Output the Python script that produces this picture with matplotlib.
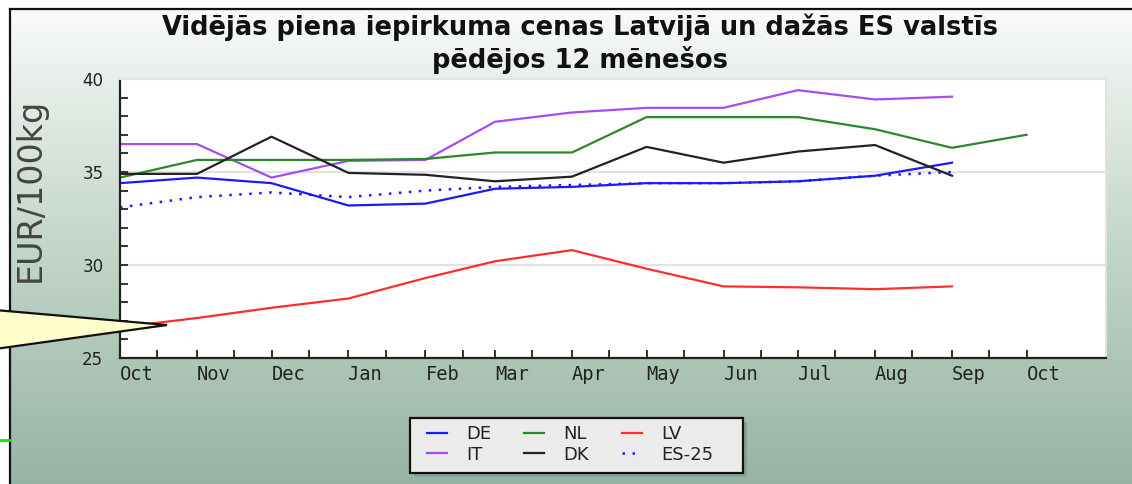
import numpy as np
import pandas as pd
import matplotlib
matplotlib.use("Agg")
import matplotlib.pyplot as plt
from matplotlib.patches import Polygon, Rectangle
from matplotlib.ticker import MultipleLocator

# data (EUR/100kg, first day of each month)
months = pd.date_range("2012-10-01", "2013-10-01", freq="MS")
month_labels = ["Oct", "Nov", "Dec", "Jan", "Feb", "Mar", "Apr",
                "May", "Jun", "Jul", "Aug", "Sep", "Oct"]

de = [34.4, 34.7, 34.4, 33.2, 33.3, 34.1, 34.2, 34.4, 34.4, 34.5, 34.8, 35.5]
it = [36.5, 36.5, 34.7, 35.6, 35.65, 37.7, 38.2, 38.45, 38.45, 39.4, 38.9, 39.05]
nl = [34.7, 35.65, 35.65, 35.65, 35.7, 36.05, 36.05, 37.95, 37.95, 37.95, 37.3, 36.3, 37.0]
dk = [34.9, 34.9, 36.9, 34.95, 34.85, 34.5, 34.75, 36.35, 35.5, 36.1, 36.45, 34.8]
lv = [26.65, 27.15, 27.7, 28.2, 29.3, 30.2, 30.8, 29.8, 28.85, 28.8, 28.7, 28.85]
es25 = [33.1, 33.65, 33.9, 33.65, 34.0, 34.2, 34.3, 34.4, 34.4, 34.5, 34.8, 35.0]

title_1 = "Vidējās piena iepirkuma cenas Latvijā un dažās ES valstīs"
title_2 = "pēdējos 12 mēnešos"

W, H = 1132, 484
fig = plt.figure(figsize=(W / 100, H / 100), dpi=100)
fig.patch.set_facecolor("white")

# background panel with vertical gradient
bg = fig.add_axes([0, 0, 1, 1], zorder=-5)
stops = [9, 100, 250, 484]
stop_cols = ["#fafbfa", "#e3ebe5", "#c2d5c9", "#96b4a3"]
rgb = np.array([matplotlib.colors.to_rgb(c) for c in stop_cols])
rows = np.arange(9, H)
grad = np.stack([np.interp(rows, stops, rgb[:, k]) for k in range(3)], axis=-1)[:, None, :]
bg.imshow(grad, extent=(10, W, H, 9), aspect="auto", interpolation="bilinear")
bg.plot([10, 10], [H, 9], color="#111111", lw=1.6)
bg.plot([10, W], [9, 9], color="#111111", lw=1.6)
bg.plot([0, 10], [440, 440], color="#00ee00", lw=2)
# legend box and its shadow
bg.add_patch(Rectangle((414, 422), 333, 55, facecolor="#86a092", edgecolor="none"))
bg.add_patch(Rectangle((410, 418), 333, 55, facecolor="#ebebeb", edgecolor="#111111", lw=1.6))
bg.set_xlim(0, W)
bg.set_ylim(H, 0)
bg.axis("off")

# main plot
ax = fig.add_axes([120 / W, 1 - 358 / H, (1106 - 120) / W, (358 - 79) / H])
ax.set_facecolor("white")

ax.plot(months[:len(de)], de, color="#1a1aff", lw=1.6, label="DE")
ax.plot(months[:len(it)], it, color="#a64df0", lw=1.6, label="IT")
ax.plot(months[:len(nl)], nl, color="#2a882a", lw=1.6, label="NL")
ax.plot(months[:len(dk)], dk, color="#222222", lw=1.6, label="DK")
ax.plot(months[:len(lv)], lv, color="#ff2e2e", lw=1.6, label="LV")
ax.plot(months[:len(es25)], es25, color="#1a1aff", lw=1.8, ls=(0, (1, 3)), label="ES-25")

ax.set_ylim(25, 40)
ax.set_yticks([25, 30, 35, 40])
ax.yaxis.set_minor_locator(MultipleLocator(1))
ax.set_xlim(pd.Timestamp("2012-10-01"), pd.Timestamp("2013-11-02"))
ax.set_xticks(months)
ax.set_xticklabels(month_labels, family="DejaVu Sans Mono", fontsize=13.5, color="#222222", ha="left")
ax.set_xticks(months[:-1] + pd.Timedelta(days=15), minor=True)

ax.tick_params(which="both", direction="in", length=6, width=1.3, color="#222222")
ax.tick_params(axis="y", labelsize=12, labelcolor="#222222", pad=12)
ax.tick_params(axis="x", pad=5)
ax.yaxis.grid(True, which="major", color="#e2e2e2", lw=1.5)
ax.set_axisbelow(True)
for s in ["left", "bottom"]:
    ax.spines[s].set_color("#222222")
    ax.spines[s].set_linewidth(1.6)
for s in ["top", "right"]:
    ax.spines[s].set_color("#e2e2e2")
    ax.spines[s].set_linewidth(1.5)

fig.text(580 / W, 1 - 27 / H, title_1, ha="center", va="center", fontsize=18.5, fontweight="bold", color="#111111")
fig.text(580 / W, 1 - 60 / H, title_2, ha="center", va="center", fontsize=18.5, fontweight="bold", color="#111111")
fig.text(30 / W, 1 - 190 / H, "EUR/100kg", rotation=90, ha="center", va="center", fontsize=24, color="#444444")

leg = ax.legend(ncol=3, loc="upper left", bbox_to_anchor=(427 / W, 1 - 425 / H),
                bbox_transform=fig.transFigure, borderaxespad=0, borderpad=0, fontsize=13,
                handlelength=1.1, handletextpad=1.05, columnspacing=1.85,
                labelspacing=0.15, frameon=False)
for t in leg.get_texts():
    t.set_color("#222222")

# tooltip callout pointing into the chart
ov = fig.add_axes([0, 0, 1, 1], zorder=10)
ov.add_patch(Polygon([(-5, 310), (167, 325), (-5, 349)], closed=True,
                     facecolor="#ffffcc", edgecolor="#111111", lw=1.6))
ov.set_xlim(0, W)
ov.set_ylim(H, 0)
ov.axis("off")

fig.savefig("out.png", dpi=100)
